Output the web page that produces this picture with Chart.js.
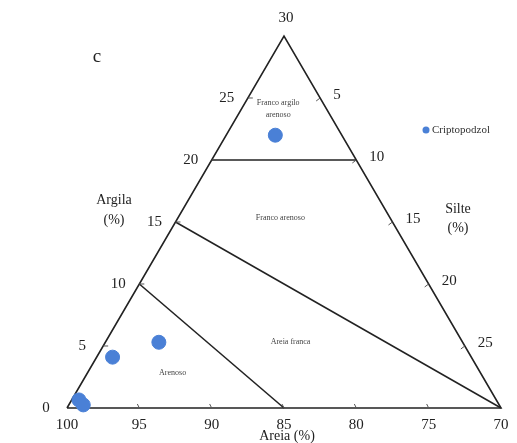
<!DOCTYPE html>
<html>
<head>
<meta charset="utf-8">
<script src="https://cdn.jsdelivr.net/npm/chart.js@4"></script>
<style>
  body { margin: 0; background: #fff; }
  canvas { display: block; }
</style>
</head>
<body>
<canvas id="myChart" width="517" height="443"></canvas>
<script>
const ctx = document.getElementById('myChart').getContext('2d');

// samples (Criptopodzol) - clay % and silt %, sand is the rest
const clayVals = [22, 5.3, 4.1, 0.65, 0.25];
const siltVals = [3.4, 3.7, 1.1, 0.5, 1.0];

// tick labels on each side
const clayTicks = [0, 5, 10, 15, 20, 25];
const siltTicks = [5, 10, 15, 20, 25];
const sandTicks = [100, 95, 90, 85, 80, 75, 70];

// class boundaries as [clay, silt] pairs
const outline = [[0, 0], [30, 0], [0, 30], [0, 0]];
const boundaries = [
    [[20, 0], [20, 10]],
    [[15, 0], [0, 30]],
    [[10, 0], [0, 15]],
];

// class names and where they sit [clay, silt]
const classNames = [
    ['Franco argilo', 24.6, 2.3],
    ['arenoso', 23.6, 2.8],
    ['Franco arenoso', 15.3, 7.1],
    ['Areia franca', 5.3, 12.8],
    ['Arenoso', 2.8, 5.9],
];

// ternary -> cartesian (silt to the right, clay up)
function tern(c, s) {
    return { x: s + c / 2, y: c };
}

const lineDs = (pts) => ({
    type: 'scatter',
    data: pts.map(p => tern(p[0], p[1])),
    showLine: true,
    borderColor: '#222',
    borderWidth: 1.6,
    pointRadius: 0,
    fill: false,
    order: 2,
});

const datasets = [lineDs(outline)];
boundaries.forEach(b => datasets.push(lineDs(b)));
datasets.push({
    type: 'scatter',
    label: 'Criptopodzol',
    data: clayVals.map((c, i) => tern(c, siltVals[i])),
    backgroundColor: '#4a80d6',
    borderColor: '#4a80d6',
    pointRadius: 7,
    order: 1,
});

const serif = '"Liberation Serif", "DejaVu Serif", serif';

const labelsPlugin = {
    id: 'ternLabels',
    afterDatasetsDraw(chart) {
        const c = chart.ctx;
        const xs = chart.scales.x, ys = chart.scales.y;
        const px = (cl, si) => {
            const p = tern(cl, si);
            return [xs.getPixelForValue(p.x), ys.getPixelForValue(p.y)];
        };
        c.save();

        // tick marks
        c.strokeStyle = '#555';
        c.lineWidth = 1;
        const tick = (x, y, dx, dy) => {
            c.beginPath();
            c.moveTo(x, y);
            c.lineTo(x + dx, y + dy);
            c.stroke();
        };
        for (let v = 5; v < 30; v += 5) {
            let [x, y] = px(v, 0);
            tick(x, y, 5, 0);
            [x, y] = px(30 - v, v);
            tick(x, y, -4, 3);
            [x, y] = px(0, v);
            tick(x, y, -2, -4);
        }

        c.fillStyle = '#222';
        c.font = '15px ' + serif;
        c.textBaseline = 'middle';

        // left side: clay
        c.textAlign = 'center';
        clayTicks.forEach(v => {
            const [x, y] = px(v, 0);
            c.fillText(String(v), x - 21, y);
        });
        const [ax, ay] = px(30, 0);
        c.fillText('30', ax + 2, ay - 18);

        // right side: silt
        c.textAlign = 'left';
        siltTicks.forEach(v => {
            const [x, y] = px(30 - v, v);
            c.fillText(String(v), x + 13, y - 3);
        });

        // bottom: sand
        c.textAlign = 'center';
        sandTicks.forEach(v => {
            const [x, y] = px(0, 100 - v);
            c.fillText(String(v), x, y + 17);
        });

        // axis titles
        c.font = '14px ' + serif;
        c.fillText('Argila', 114, 200);
        c.fillText('(%)', 114, 220);
        c.fillText('Silte', 458, 209);
        c.fillText('(%)', 458, 228);
        c.fillText('Areia (%)', 287, 436);

        // panel letter
        c.font = '19px ' + serif;
        c.fillText('c', 97, 57);

        // class names
        c.font = '8px ' + serif;
        c.fillStyle = '#444';
        classNames.forEach(n => {
            const [x, y] = px(n[1], n[2]);
            c.fillText(n[0], x, y);
        });

        // legend
        c.fillStyle = '#4a80d6';
        c.beginPath();
        c.arc(426, 130, 3.5, 0, Math.PI * 2);
        c.fill();
        c.fillStyle = '#333';
        c.font = '11px ' + serif;
        c.textAlign = 'left';
        c.fillText('Criptopodzol', 432, 130);

        c.restore();
    }
};

const config = {
    type: 'scatter',
    data: { datasets },
    options: {
        responsive: false,
        animation: false,
        clip: false,
        layout: { padding: 0, autoPadding: false },
        plugins: {
            legend: { display: false },
            tooltip: { enabled: false },
        },
        scales: {
            x: { type: 'linear', display: false, min: -4.631, max: 31.106 },
            y: { type: 'linear', display: false, min: -2.823, max: 32.903 },
        },
    },
    plugins: [labelsPlugin],
};

const myChart = new Chart(ctx, config);
</script>
</body>
</html>
